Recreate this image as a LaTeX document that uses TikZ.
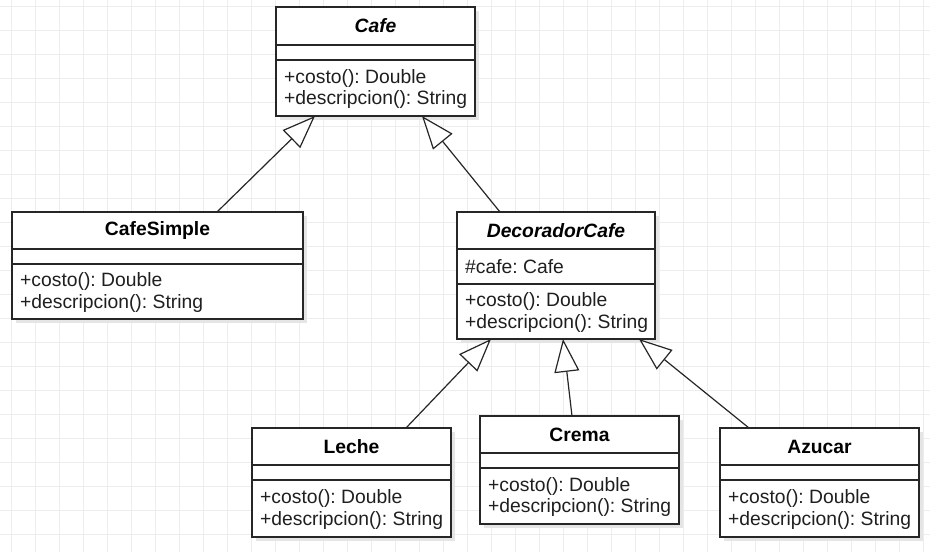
\documentclass[tikz,border=0pt]{standalone}
\usepackage{fontspec}
\setmainfont{Liberation Sans}
\frenchspacing
\usetikzlibrary{arrows.meta,calc}
\tikzset{
  classbox/.style={draw=black!85, line width=1.3pt, fill=white, inner sep=0pt, outer sep=0pt},
  shadowbox/.style={fill=black!10, draw=none},
  sepline/.style={draw=black!85, line width=1.3pt},
  titletext/.style={font=\fontsize{19.3}{21.5}\selectfont\bfseries\frenchspacing, inner sep=0pt},
  bodytext/.style={font=\fontsize{19.3}{21.5}\selectfont\frenchspacing, align=left, anchor=west, inner sep=0pt, text=black!88},
  inherit/.style={draw=black!85, line width=1.2pt, -{Triangle[open, length=33pt, width=25pt, fill=white]}},
  gridline/.style={draw=black!7, line width=1pt}
}
% #1 name, #2 left, #3 top, #4 right, #5 first separator, #6 second separator, #7 bottom, #8 title, #9 attributes
\newcommand\umlclass[9]{%
  \fill[shadowbox] (#2+4,#3+4) rectangle (#4+4,#7+4);
  \node[classbox, minimum width={(#4-#2)*1pt}, minimum height={(#7-#3)*1pt}] (#1) at ({(#2+#4)/2},{(#3+#7)/2}) {};
  \draw[sepline] (#1.west |- 0,#5) -- (#1.east |- 0,#5);
  \draw[sepline] (#1.west |- 0,#6) -- (#1.east |- 0,#6);
  \node[titletext] (#1-title) at ({(#2+#4)/2},{(#3+#5)/2}) {#8};
  \node[bodytext] (#1-attr) at ({#2+8},{(#5+#6)/2}) {#9};
  \node[bodytext] (#1-ops) at ({#2+8},{(#6+#7)/2+1}) {+costo(): Double\\+descripcion(): String};
}
\begin{document}
\begin{tikzpicture}[x=1pt, y=-1pt]
  \useasboundingbox (0,0) rectangle (930,552);
  \fill[white] (0,0) rectangle (930,552);
  \foreach \i in {0,...,38} { \draw[gridline] ({11.7+24*\i},0) -- ({11.7+24*\i},552); }
  \foreach \j in {0,...,22} { \draw[gridline] (0,{6+24*\j}) -- (930,{6+24*\j}); }

  \umlclass{Cafe}{276}{7}{475}{45}{60}{116}{\itshape Cafe}{}
  \umlclass{CafeSimple}{12}{212}{303}{249}{264}{319}{CafeSimple}{}
  \umlclass{DecoradorCafe}{457}{212}{655}{249}{284}{339}{\itshape DecoradorCafe}{\#cafe: Cafe}
  \umlclass{Leche}{252}{428}{451}{465}{480}{537}{Leche}{}
  \umlclass{Crema}{480}{416}{679}{453}{468}{524}{Crema}{}
  \umlclass{Azucar}{720}{428}{919}{465}{480}{537}{Azucar}{}

  \draw[inherit] ([xshift=205pt]CafeSimple.north west) -- ([xshift=39pt]Cafe.south west);
  \draw[inherit] ([xshift=43pt]DecoradorCafe.north west) -- ([xshift=146pt]Cafe.south west);
  \draw[inherit] ([xshift=154pt]Leche.north west) -- ([xshift=34pt]DecoradorCafe.south west);
  \draw[inherit] ([xshift=92pt]Crema.north west) -- ([xshift=106pt]DecoradorCafe.south west);
  \draw[inherit] ([xshift=29pt]Azucar.north west) -- ([xshift=182pt]DecoradorCafe.south west);
\end{tikzpicture}
\end{document}
